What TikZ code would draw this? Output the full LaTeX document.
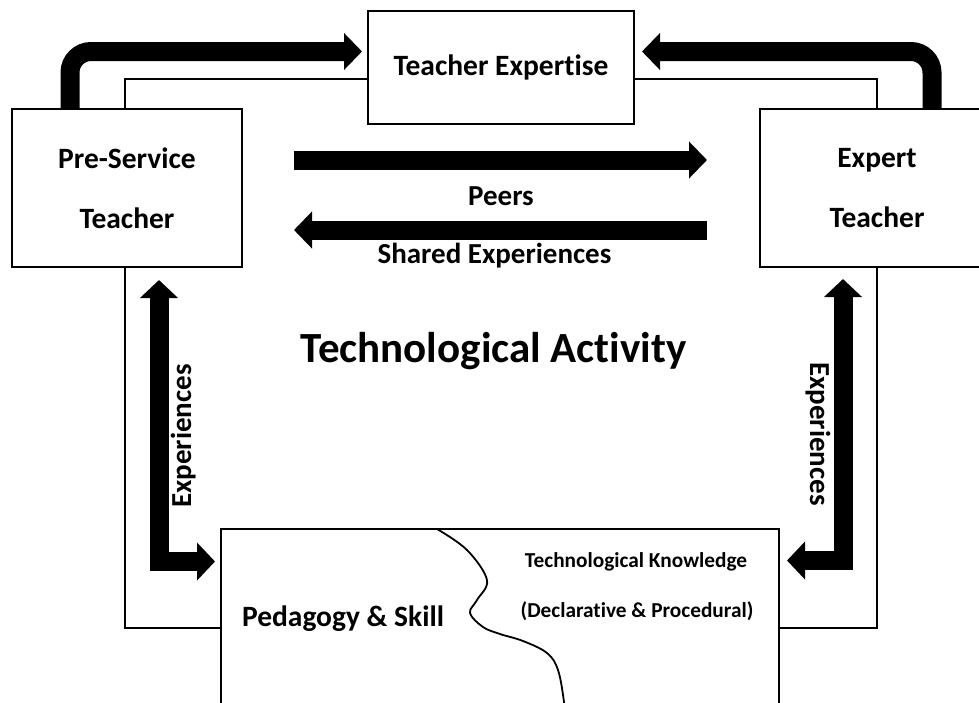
\documentclass[tikz,border=0pt]{standalone}
\usepackage{fontspec}
\setmainfont{Carlito}[Ligatures=NoCommon]
\usetikzlibrary{arrows.meta}
\begin{document}
\begin{tikzpicture}[x=1pt,y=-1pt,
  box/.style={draw, fill=white, line width=2pt, align=center, inner sep=0pt},
  boxfont/.style={font=\fontsize{29.5}{60}\selectfont\bfseries},
  midfont/.style={font=\fontsize{29}{33}\selectfont\bfseries},
  smallfont/.style={font=\fontsize{21.3}{25}\selectfont\bfseries},
  bigfont/.style={font=\fontsize{43}{52}\selectfont\bfseries},
  bigarrow/.style={line width=19pt, line join=miter, -{Triangle[length=18pt,width=36pt]}},
  dblarrow/.style={line width=19pt, line join=miter, {Triangle[length=18pt,width=37pt]}-{Triangle[length=18pt,width=37pt]}},
  frame/.style={line width=2pt},
  wave/.style={line width=1.8pt}
]
\useasboundingbox (0,0) rectangle (979,702);
\clip (0,0) rectangle (979,702);
\fill[white] (0,0) rectangle (979,702);

% thin frame behind boxes
\draw[frame] (125,79) rectangle (877,628);

% boxes
\node[box, boxfont, minimum width=266pt, minimum height=113pt, font=\fontsize{29.5}{34}\selectfont\bfseries] (te) at (501,67.5) {Teacher Expertise};
\node[box, boxfont, minimum width=230pt, minimum height=158pt] (pst) at (127,188) {Pre-Service\\Teacher};
\node[box, boxfont, minimum width=234pt, minimum height=158pt] (ext) at (877,188) {Expert\\Teacher};
\node[box, minimum width=558pt, minimum height=231pt] (pk) at (500,644.5) {};

% wavy divider
\draw[wave] plot[smooth, tension=0.6] coordinates {(437,529) (467,550) (487,580) (477,600) (470,613) (483,627) (500,634) (523,641) (547,653) (558,670) (564,702) (565,720)};

% texts
\node[midfont, anchor=base] (peers) at (501,205) {Peers};
\node[midfont, anchor=base] (shared) at (494.5,263) {Shared Experiences};
\node[bigfont, anchor=base] (ta) at (493.5,362) {Technological Activity};
\node[boxfont, anchor=base] (ps) at (343,626) {Pedagogy \& Skill};
\node[smallfont, anchor=base] (tk) at (636,567) {Technological Knowledge};
\node[smallfont, anchor=base] (dp) at (637,617) {(Declarative \& Procedural)};
\node[midfont, anchor=base, rotate=90] (expl) at (191,436) {Experiences};
\node[midfont, anchor=base, rotate=-90] (expr) at (810,434) {Experiences};

% thick arrows
\draw[bigarrow, rounded corners=21pt] ([xshift=-57pt]pst.north) |- ([xshift=-5pt,yshift=16pt]te.west);
\draw[bigarrow, rounded corners=21pt] ([xshift=55pt]ext.north) |- ([xshift=7pt,yshift=16pt]te.east);
\draw[bigarrow] ([xshift=51pt,yshift=28pt]pst.east) -- ([xshift=-52pt,yshift=28pt]ext.west);
\draw[bigarrow] ([xshift=-52pt,yshift=-42pt]ext.west) -- ([xshift=51pt,yshift=-42pt]pst.east);
\draw[dblarrow] ([xshift=32pt,yshift=-12pt]pst.south) |- ([xshift=-5pt,yshift=-33.5pt]pk.north west);
\draw[dblarrow] ([xshift=-34pt,yshift=-11pt]ext.south) |- ([xshift=7pt,yshift=-32.5pt]pk.north east);
\end{tikzpicture}
\end{document}
